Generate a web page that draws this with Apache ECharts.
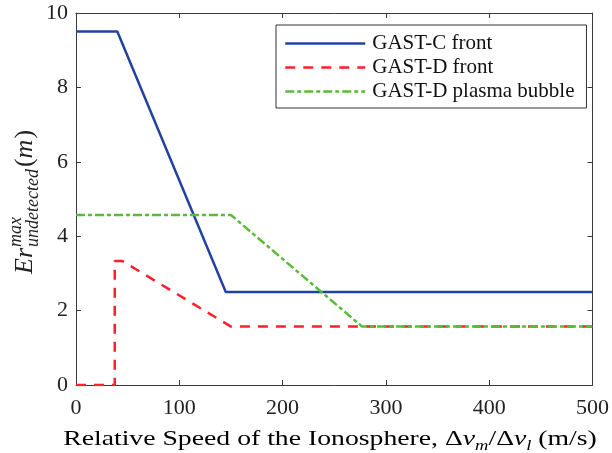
<!DOCTYPE html>
<html>
<head>
<meta charset="utf-8">
<script src="https://cdn.jsdelivr.net/npm/echarts@6/dist/echarts.min.js"></script>
<style>
  html, body { margin: 0; padding: 0; background: #fff; }
  #chart { width: 612px; height: 453px; }
</style>
</head>
<body>
<div id="chart"></div>
<script>
// Breakpoints (relative ionosphere speed, m/s) and undetected error values (m)
const gastCFrontSpeed = [0, 40, 145, 500];
const gastCFrontErr   = [9.5, 9.5, 2.5, 2.5];

const gastDFrontSpeed = [0, 37.5, 37.5, 45, 150, 500];
const gastDFrontErr   = [0, 0, 3.33, 3.33, 1.57, 1.57];

const gastDBubbleSpeed = [0, 150, 277, 500];
const gastDBubbleErr   = [4.57, 4.57, 1.57, 1.57];

const seriesNames = ['GAST-C front', 'GAST-D front', 'GAST-D plasma bubble'];
const xTicks = [0, 100, 200, 300, 400, 500];
const yTicks = [0, 2, 4, 6, 8, 10];

const SERIF = '"Liberation Serif", "Times New Roman", serif';
const AXIS_COLOR = '#3a3a3a';
const TEXT_COLOR = '#222';

function pairs(xs, ys) { return xs.map((x, i) => [x, ys[i]]); }

// measure text for the hand-built rotated y-axis title
const measureCtx = document.createElement('canvas').getContext('2d');
function textWidth(str, font) { measureCtx.font = font; return measureCtx.measureText(str).width; }

const mainSize = 26, scriptSize = 18;
const fMain = 'italic ' + mainSize + 'px ' + SERIF;
const fScript = 'italic ' + scriptSize + 'px ' + SERIF;
const fUpright = mainSize + 'px ' + SERIF;
const wEr = textWidth('Er', fMain);
const wSub = textWidth('undetected', fScript);
const wOpen = textWidth('(', fUpright);
const wM = textWidth('m', fMain);

// baseline helper: zrender 'middle' sits about 0.32em above the baseline
function at(x, baseline, size) { return { x: x, y: baseline - 0.32 * size }; }
function piece(text, font, x, baseline, size) {
  return { type: 'text', style: Object.assign({ text: text, font: font, fill: TEXT_COLOR, verticalAlign: 'middle' }, at(x, baseline, size)) };
}

const yTitleChildren = [
  piece('Er', fMain, 0, 0, mainSize),
  piece('max', fScript, wEr + 1, -11, scriptSize),
  piece('undetected', fScript, wEr + 1, 6, scriptSize),
  piece('(', fUpright, wEr + wSub + 3, 0, mainSize),
  piece('m', fMain, wEr + wSub + wOpen + 3, 0, mainSize),
  piece(')', fUpright, wEr + wSub + wOpen + wM + 4, 0, mainSize)
];

const chart = echarts.init(document.getElementById('chart'), null, { renderer: 'canvas' });

const commonAxis = {
  axisLine: { show: true, onZero: false, lineStyle: { color: AXIS_COLOR, width: 1 } },
  axisTick: { show: true, inside: true, length: 5, lineStyle: { color: AXIS_COLOR, width: 1 } },
  splitLine: { show: false }
};

const labelStyle = { color: TEXT_COLOR, fontFamily: SERIF, fontSize: 22 };

chart.setOption({
  animation: false,
  backgroundColor: '#fff',
  grid: { left: 76, right: 18, top: 13, bottom: 68, containLabel: false },
  xAxis: [
    Object.assign({
      type: 'value', position: 'bottom', min: xTicks[0], max: xTicks[xTicks.length - 1], interval: 100,
      axisLabel: Object.assign({ margin: 12 }, labelStyle)
    }, commonAxis),
    Object.assign({
      type: 'value', position: 'top', min: xTicks[0], max: xTicks[xTicks.length - 1], interval: 100,
      axisLabel: { show: false }
    }, commonAxis)
  ],
  yAxis: [
    Object.assign({
      type: 'value', position: 'left', min: yTicks[0], max: yTicks[yTicks.length - 1], interval: 2,
      axisLabel: Object.assign({ margin: 8 }, labelStyle)
    }, commonAxis),
    Object.assign({
      type: 'value', position: 'right', min: yTicks[0], max: yTicks[yTicks.length - 1], interval: 2,
      axisLabel: { show: false }
    }, commonAxis)
  ],
  legend: {
    orient: 'vertical',
    left: 276, top: 25,
    padding: [8, 12, 6, 8],
    itemGap: 3,
    itemWidth: 80,
    itemHeight: 14,
    backgroundColor: '#fff',
    borderColor: '#333',
    borderWidth: 1,
    borderRadius: 0,
    itemStyle: { opacity: 0 },
    lineStyle: { width: 2.5 },
    textStyle: { color: '#111', fontFamily: SERIF, fontSize: 21, padding: [0, 0, 0, 2], lineHeight: 21 },
    data: seriesNames
  },
  graphic: [
    {
      type: 'group', x: 33, y: 274, rotation: Math.PI / 2,
      children: yTitleChildren
    },
    {
      type: 'text', x: 330, y: 439, scaleX: 1.32,
      style: {
        text: '{a|Relative Speed of the Ionosphere, Δ}{i|v}{s|m}{a|/Δ}{i|v}{s|l}{a| (m/s)}',
        align: 'center', verticalAlign: 'middle',
        rich: {
          a: { fontFamily: SERIF, fontSize: 21, lineHeight: 28, color: TEXT_COLOR },
          i: { fontFamily: SERIF, fontSize: 21, fontStyle: 'italic', lineHeight: 28, color: TEXT_COLOR },
          s: { fontFamily: SERIF, fontSize: 14, fontStyle: 'italic', lineHeight: 14, verticalAlign: 'bottom', color: TEXT_COLOR }
        }
      }
    }
  ],
  series: [
    {
      name: seriesNames[0], type: 'line', symbol: 'none', xAxisIndex: 0, yAxisIndex: 0,
      data: pairs(gastCFrontSpeed, gastCFrontErr),
      lineStyle: { color: '#2142a0', width: 2.5, type: 'solid' },
      itemStyle: { color: '#2142a0' }, z: 3
    },
    {
      name: seriesNames[1], type: 'line', symbol: 'none', xAxisIndex: 0, yAxisIndex: 0,
      data: pairs(gastDFrontSpeed, gastDFrontErr),
      lineStyle: { color: '#ff1f2d', width: 2.5, type: [10, 8] },
      itemStyle: { color: '#ff1f2d' }, z: 4
    },
    {
      name: seriesNames[2], type: 'line', symbol: 'none', xAxisIndex: 0, yAxisIndex: 0,
      data: pairs(gastDBubbleSpeed, gastDBubbleErr),
      lineStyle: { color: '#58bc38', width: 2.5, type: [9, 3, 4, 3] },
      itemStyle: { color: '#58bc38' }, z: 5
    }
  ]
});
</script>
</body>
</html>
